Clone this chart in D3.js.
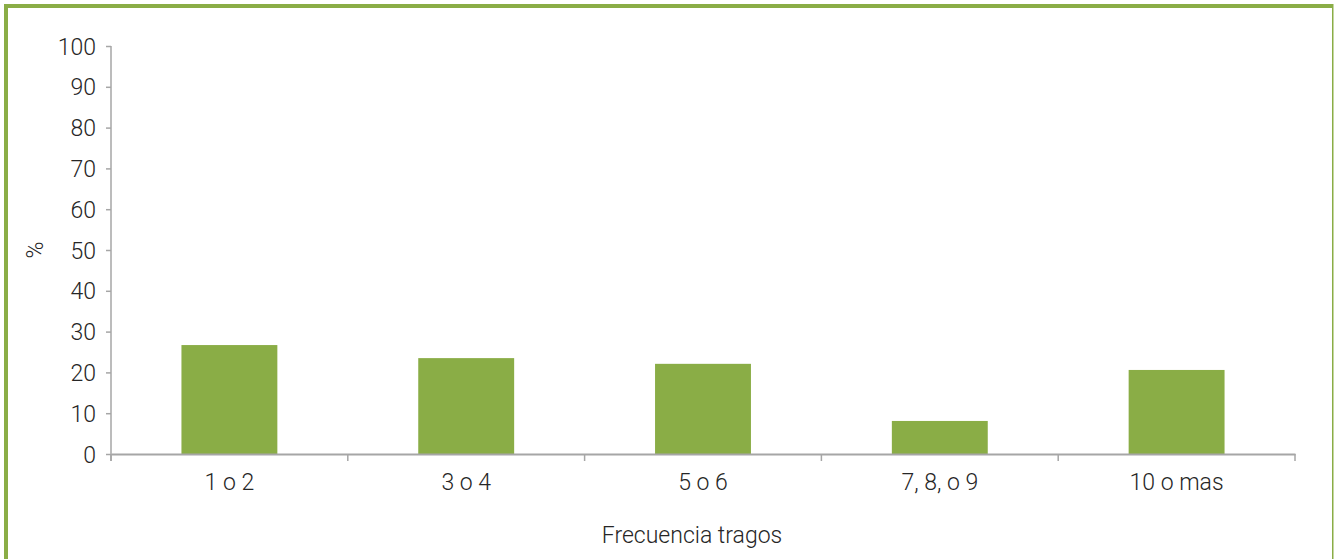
<!DOCTYPE html>
<html>
<head>
<meta charset="utf-8">
<script src="https://cdn.jsdelivr.net/npm/d3@7"></script>
<style>
  body { margin: 0; background: #fff; }
  svg text { font-family: Roboto, "Open Sans", sans-serif; font-weight: 300; fill: #262626; }
</style>
</head>
<body>
<svg class="chart"></svg>
<script>
var categories = ['1 o 2', '3 o 4', '5 o 6', '7, 8, o 9', '10 o mas'];
var values = [26.7, 23.5, 22.1, 8.1, 20.6];
var yTicks = [0, 10, 20, 30, 40, 50, 60, 70, 80, 90, 100];

var width = 1334;
var height = 559;
var margin = { top: 46, right: 39, bottom: 105, left: 111 };
var green = '#8aad46';
var axisColor = '#a6a6a6';
var fontSize = '23px';

var svg = d3.select('.chart')
  .attr('width', width)
  .attr('height', height);

// frame
svg.append('rect').attr('x', 4).attr('y', 4).attr('width', 1328).attr('height', 4).attr('fill', green);
svg.append('rect').attr('x', 4).attr('y', 4).attr('width', 4).attr('height', height).attr('fill', green);
svg.append('rect').attr('x', 1332).attr('y', 4).attr('width', 1.5).attr('height', height).attr('fill', green);

var x = d3.scaleBand()
  .domain(categories)
  .range([margin.left, width - margin.right])
  .padding(0);

var y = d3.scaleLinear()
  .domain([0, 100])
  .range([height - margin.bottom, margin.top]);

var barW = x.bandwidth() * 0.405;

svg.selectAll('rect.bar')
  .data(values)
  .enter()
  .append('rect')
  .attr('class', 'bar')
  .attr('x', function(d, i) { return x(categories[i]) + (x.bandwidth() - barW) / 2; })
  .attr('y', function(d) { return y(d); })
  .attr('width', barW)
  .attr('height', function(d) { return y(0) - y(d); })
  .attr('fill', green);

// y axis
var yAxis = svg.append('g')
  .attr('transform', 'translate(' + margin.left + ',0)')
  .call(d3.axisLeft(y).tickValues(yTicks).tickSize(5).tickPadding(10).tickSizeOuter(0));
yAxis.select('.domain').remove();
yAxis.append('line')
  .attr('x1', 0).attr('x2', 0)
  .attr('y1', y(100)).attr('y2', y(0) + 7)
  .attr('stroke', axisColor).attr('stroke-width', 1.5);
yAxis.selectAll('.tick line').attr('stroke', axisColor).attr('stroke-width', 1.5);
yAxis.selectAll('.tick text').style('font-size', fontSize).attr('dy', '0.35em');

// x axis
var xAxis = svg.append('g')
  .attr('transform', 'translate(0,' + y(0) + ')')
  .call(d3.axisBottom(x).tickSize(0).tickPadding(20));
xAxis.select('.domain').attr('stroke', axisColor).attr('stroke-width', 2);
xAxis.selectAll('.tick text').style('font-size', fontSize);

var bounds = categories.map(function(c) { return x(c); }).concat([x.range()[1]]);
xAxis.selectAll('line.sep')
  .data(bounds)
  .enter()
  .append('line')
  .attr('class', 'sep')
  .attr('x1', function(d) { return d; })
  .attr('x2', function(d) { return d; })
  .attr('y1', 0).attr('y2', 7)
  .attr('stroke', axisColor).attr('stroke-width', 1.5);

// axis titles
svg.append('text')
  .attr('x', 692)
  .attr('y', 543)
  .attr('text-anchor', 'middle')
  .style('font-size', fontSize)
  .text('Frecuencia tragos');

svg.append('text')
  .attr('transform', 'translate(43,' + ((y(0) + y(100)) / 2) + ') rotate(-90)')
  .attr('text-anchor', 'middle')
  .style('font-size', fontSize)
  .text('%');
</script>
</body>
</html>
